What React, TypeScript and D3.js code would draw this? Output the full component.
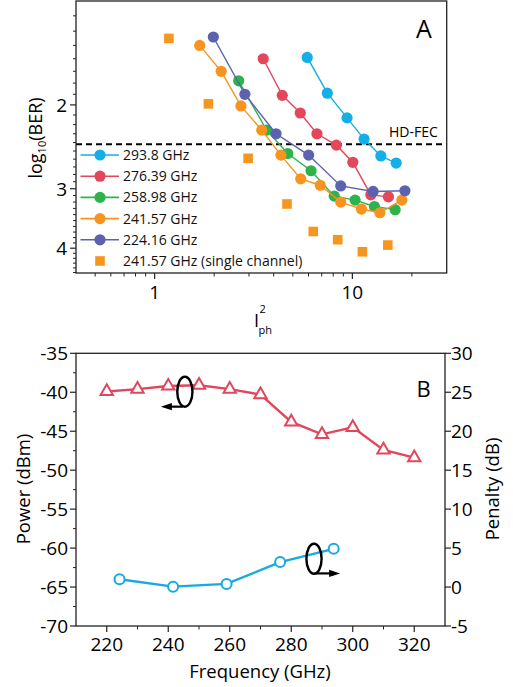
import React from "react";
import * as d3 from "d3";

// ---------- Panel A data ----------
const seriesNames = ["293.8 GHz", "276.39 GHz", "258.98 GHz", "241.57 GHz", "224.16 GHz"];
const singleName = "241.57 GHz (single channel)";
const ber293x = [5.91, 7.47, 9.4, 11.46, 13.93, 16.65];
const ber293y = [1.59, 1.89, 2.13, 2.36, 2.56, 2.65];
const ber276x = [3.54, 4.42, 5.45, 6.62, 8.3, 10.05, 12.4, 15.22];
const ber276y = [1.6, 1.91, 2.08, 2.3, 2.43, 2.64, 3.09, 3.12];
const ber259x = [2.66, 3.68, 4.71, 6.18, 8.1, 10.32, 12.93, 16.46];
const ber259y = [1.78, 2.26, 2.53, 2.75, 3.11, 3.17, 3.27, 3.32];
const ber242x = [1.69, 2.17, 2.73, 3.48, 4.35, 5.48, 6.88, 8.73, 11.11, 13.77, 17.8];
const ber242y = [1.5, 1.7, 2.01, 2.26, 2.55, 2.86, 2.95, 3.2, 3.31, 3.37, 3.17];
const ber224x = [1.98, 2.86, 4.11, 6.01, 8.73, 12.73, 18.44];
const ber224y = [1.44, 1.9, 2.3, 2.55, 2.96, 3.04, 3.03];
const singleX = [1.18, 1.87, 2.97, 4.67, 6.34, 8.43, 11.24, 15.11];
const singleY = [1.45, 1.99, 2.59, 3.23, 3.69, 3.84, 4.07, 3.94];
const hdFec = 2.42;
const topXMajor = [1, 10];
const topXMinor = [0.5, 0.6, 0.7, 0.8, 0.9, 2, 3, 4, 5, 6, 7, 8, 9, 20];
const topYMajor = [2, 3, 4];

// ---------- Panel B data ----------
const freqPower = [220, 230, 240, 250, 260, 270, 280, 290, 300, 310, 320];
const powerDbm = [-39.9, -39.6, -39.2, -39.1, -39.6, -40.3, -43.8, -45.4, -44.5, -47.4, -48.4];
const freqPenalty = [224.16, 241.57, 258.98, 276.39, 293.8];
const penaltyDb = [1.0, 0.05, 0.4, 3.2, 4.9];
const freqTicks = [220, 240, 260, 280, 300, 320];
const powerTicks = [-35, -40, -45, -50, -55, -60, -65, -70];
const penaltyTicks = [30, 25, 20, 15, 10, 5, 0, -5];
// annotation loops: [freq, power(dBm), arrow tip freq, arrow tip power]
const loopPower = [245.4, -39.93, 237.6, -41.85];
const loopPenalty = [287.4, -61.37, 295.9, -63.25];

const colors = ["#14AEE8", "#E2475C", "#2DB34B", "#F7931E", "#5B62B0"];
const squareColor = "#F7961F";
const FONT = "'Open Sans', sans-serif";

export default function App() {
  // Panel A scales
  const xA = d3.scaleLog().domain([0.4, 30]).range([76, 446.7]);
  const yA = d3.scaleLog().domain([1.21, 4.51]).range([1, 273]);
  const topSeries = [
    [ber293x, ber293y],
    [ber276x, ber276y],
    [ber259x, ber259y],
    [ber242x, ber242y],
    [ber224x, ber224y],
  ];
  const lineA = d3
    .line<[number, number]>()
    .x((d) => xA(d[0]))
    .y((d) => yA(d[1]));
  const yMinor: number[] = [];
  for (let v = 1.3; v < 4.55; v += 0.1) {
    const r = Math.round(v * 10) / 10;
    if (!topYMajor.includes(r)) yMinor.push(r);
  }

  // Panel B scales
  const xB = d3.scaleLinear().domain([210, 330]).range([76, 445]);
  const yL = d3.scaleLinear().domain([-70, -35]).range([626, 353.3]);
  const yR = d3.scaleLinear().domain([-5, 30]).range([626, 353.3]);
  const lineP = d3
    .line<number>()
    .x((_, i) => xB(freqPower[i]))
    .y((d) => yL(d));
  const lineQ = d3
    .line<number>()
    .x((_, i) => xB(freqPenalty[i]))
    .y((d) => yR(d));
  const tri = d3.symbol().type(d3.symbolTriangle).size(66)();
  const bxMinor = d3.range(230, 320, 20);
  const byMinor = d3.range(-67.5, -35, 5);

  const legendY = d3.scaleLinear().domain([0, 5]).range([155, 261]);

  const arrow = (loop: number[], dir: number) => {
    const cx = xB(loop[0]);
    const cy = yL(loop[1]);
    const tx = xB(loop[2]);
    const ty = yL(loop[3]);
    const startX = cx + dir * 2;
    const headLen = 11;
    return (
      <g>
        <ellipse cx={cx} cy={cy} rx={7.6} ry={15} fill="none" stroke="#000" strokeWidth={2.4} />
        <line x1={startX} y1={ty} x2={tx - dir * headLen + dir * 1} y2={ty} stroke="#000" strokeWidth={2.2} />
        <path
          d={`M${tx},${ty} L${tx - dir * headLen},${ty - 3.6} L${tx - dir * headLen},${ty + 3.6} Z`}
          fill="#000"
        />
      </g>
    );
  };

  return (
    <svg
      width={513}
      height={687}
      style={{ position: "absolute", left: 0, top: 0, background: "#fff" }}
      fontFamily={FONT}
    >
      {/* ================= Panel A ================= */}
      <g>
        <line x1={76} x2={446.7} y1={yA(hdFec)} y2={yA(hdFec)} stroke="#000" strokeWidth={2} strokeDasharray="6,4" />
        <text x={389} y={yA(hdFec) - 7} fontSize={14} fill="#000">
          HD-FEC
        </text>
        {topSeries.map(([xs, ys], si) => {
          const pts = xs.map((x, i) => [x, ys[i]] as [number, number]);
          return (
            <g key={si}>
              <path d={lineA(pts) || ""} fill="none" stroke={colors[si]} strokeWidth={1.4} />
              {pts.map((p, i) => (
                <circle key={i} cx={xA(p[0])} cy={yA(p[1])} r={5.6} fill={colors[si]} />
              ))}
            </g>
          );
        })}
        {singleX.map((x, i) => (
          <rect key={i} x={xA(x) - 4.8} y={yA(singleY[i]) - 4.8} width={9.6} height={9.6} fill={squareColor} />
        ))}
        {seriesNames.map((n, i) => (
          <g key={n}>
            <line x1={80.5} x2={119} y1={legendY(i)} y2={legendY(i)} stroke={colors[i]} strokeWidth={1.6} />
            <circle cx={100} cy={legendY(i)} r={5.6} fill={colors[i]} />
            <text x={123} y={legendY(i) + 5} fontSize={14} fill="#111">
              {n}
            </text>
          </g>
        ))}
        <rect x={95.2} y={legendY(5) - 4.8} width={9.6} height={9.6} fill={squareColor} />
        <text x={123} y={legendY(5) + 5} fontSize={14} fill="#111">
          {singleName}
        </text>
        <rect x={76} y={1} width={370.7} height={272} fill="none" stroke="#222" strokeWidth={1.3} />
        {topYMajor.map((v) => (
          <g key={v}>
            <line x1={70} x2={76} y1={yA(v)} y2={yA(v)} stroke="#222" strokeWidth={1.2} />
            <text x={67} y={yA(v)} dy="0.36em" textAnchor="end" fontSize={19}>
              {v}
            </text>
          </g>
        ))}
        {yMinor.map((v) => (
          <line key={v} x1={73} x2={76} y1={yA(v)} y2={yA(v)} stroke="#222" strokeWidth={1} />
        ))}
        {topXMajor.map((v) => (
          <g key={v}>
            <line x1={xA(v)} x2={xA(v)} y1={273} y2={279} stroke="#222" strokeWidth={1.2} />
            <text x={xA(v)} y={299} textAnchor="middle" fontSize={19}>
              {v}
            </text>
          </g>
        ))}
        {topXMinor.map((v) => (
          <line key={v} x1={xA(v)} x2={xA(v)} y1={273} y2={276.5} stroke="#222" strokeWidth={1} />
        ))}
        <text transform="translate(42,138) rotate(-90)" textAnchor="middle" fontSize={18}>
          log
          <tspan fontSize={11} dy={4}>
            10
          </tspan>
          <tspan dy={-4}>(BER)</tspan>
        </text>
        <text x={254} y={327} fontSize={18}>
          I
        </text>
        <text x={259.5} y={313} fontSize={11}>
          2
        </text>
        <text x={258.5} y={334} fontSize={11}>
          ph
        </text>
        <text x={424} y={38} textAnchor="middle" fontSize={25}>
          A
        </text>
      </g>

      {/* ================= Panel B ================= */}
      <g>
        <path d={lineP(powerDbm) || ""} fill="none" stroke="#E0475C" strokeWidth={2.4} />
        {powerDbm.map((v, i) => (
          <path
            key={i}
            d={tri || ""}
            transform={`translate(${xB(freqPower[i])},${yL(v)})`}
            fill="#fff"
            stroke="#E0475C"
            strokeWidth={2}
          />
        ))}
        <path d={lineQ(penaltyDb) || ""} fill="none" stroke="#17A9E1" strokeWidth={2.4} />
        {penaltyDb.map((v, i) => (
          <circle key={i} cx={xB(freqPenalty[i])} cy={yR(v)} r={5} fill="#fff" stroke="#17A9E1" strokeWidth={2} />
        ))}
        {arrow(loopPower, -1)}
        {arrow(loopPenalty, 1)}
        <text x={423.5} y={397} textAnchor="middle" fontSize={22}>
          B
        </text>
        <rect x={76} y={353.3} width={369} height={272.7} fill="none" stroke="#222" strokeWidth={1.3} />
        {powerTicks.map((v) => (
          <g key={v}>
            <line x1={70} x2={76} y1={yL(v)} y2={yL(v)} stroke="#222" strokeWidth={1.2} />
            <text x={68} y={yL(v)} dy="0.36em" textAnchor="end" fontSize={19}>
              {v}
            </text>
          </g>
        ))}
        {byMinor.map((v) => (
          <line key={v} x1={73} x2={76} y1={yL(v)} y2={yL(v)} stroke="#222" strokeWidth={1} />
        ))}
        {penaltyTicks.map((v) => (
          <g key={v}>
            <line x1={445} x2={451} y1={yR(v)} y2={yR(v)} stroke="#222" strokeWidth={1.2} />
            <text x={451} y={yR(v)} dy="0.36em" textAnchor="start" fontSize={19}>
              {v}
            </text>
          </g>
        ))}
        {freqTicks.map((v) => (
          <g key={v}>
            <line x1={xB(v)} x2={xB(v)} y1={626} y2={632} stroke="#222" strokeWidth={1.2} />
            <text x={xB(v)} y={651} textAnchor="middle" fontSize={19}>
              {v}
            </text>
          </g>
        ))}
        {bxMinor.map((v) => (
          <line key={v} x1={xB(v)} x2={xB(v)} y1={626} y2={629.5} stroke="#222" strokeWidth={1} />
        ))}
        <text transform="translate(30,489) rotate(-90)" textAnchor="middle" fontSize={18.5}>
          Power (dBm)
        </text>
        <text transform="translate(499,489) rotate(-90)" textAnchor="middle" fontSize={18.5}>
          Penalty (dB)
        </text>
        <text x={260} y={678} textAnchor="middle" fontSize={18.5}>
          Frequency (GHz)
        </text>
      </g>
    </svg>
  );
}
